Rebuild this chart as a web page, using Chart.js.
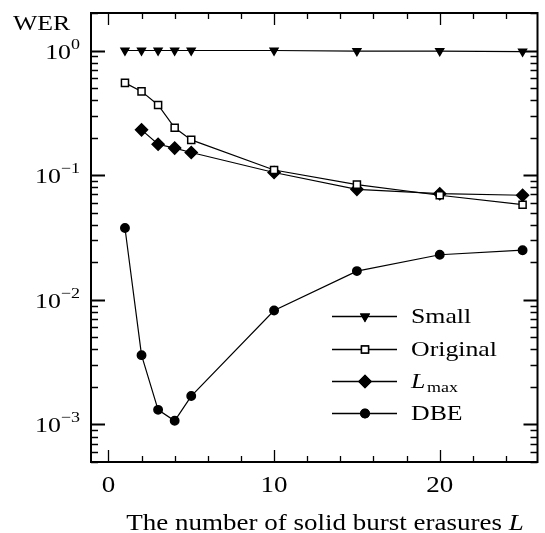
<!DOCTYPE html>
<html>
<head>
<meta charset="utf-8">
<script src="https://cdn.jsdelivr.net/npm/chart.js@4/dist/chart.umd.min.js"></script>
<style>
  html,body{margin:0;padding:0;background:#fff;}
  #wrap{width:545px;height:533px;position:relative;}
</style>
</head>
<body>
<div id="wrap"><canvas id="c" width="545" height="533"></canvas></div>
<script>
// data
const xs = [1,2,3,4,5,10,15,20,25];
const small    = [1.0,1.0,1.0,1.0,1.0,1.0,0.99,0.99,0.98];
const original = [0.55,0.47,0.366,0.24,0.192,0.11,0.084,0.069,0.058];
const lmaxX    = [2,3,4,5,10,15,20,25];
const lmax     = [0.231,0.177,0.165,0.152,0.105,0.077,0.071,0.069];
const dbe      = [0.0377,0.0036,0.00131,0.00107,0.00169,0.0082,0.017,0.023,0.025];
const xTickLabels = [0,10,20];
const yDecades = [0,-1,-2,-3];

const FONT = "'Liberation Serif', 'DejaVu Serif', serif";
const K = 1.2; // horizontal stretch, the original text is set wide
const pts = (x,y)=>x.map((v,i)=>({x:v,y:y[i]}));

const ds = [
  {label:'Small',data:pts(xs,small),pointStyle:'triangle',rotation:180,pointRadius:4.5,backgroundColor:'#000'},
  {label:'Original',data:pts(xs,original),pointStyle:'rect',pointRadius:5,backgroundColor:'#fff'},
  {label:'Lmax',data:pts(lmaxX,lmax),pointStyle:'rectRot',pointRadius:6,backgroundColor:'#000'},
  {label:'DBE',data:pts(xs,dbe),pointStyle:'circle',pointRadius:4.2,backgroundColor:'#000'}
].map(d=>Object.assign(d,{borderColor:'#000',borderWidth:1.2,pointBorderWidth:1.5,pointBorderColor:'#000',
  pointBackgroundColor:d.backgroundColor,pointHoverRadius:d.pointRadius,pointRotation:d.rotation||0,tension:0,fill:false}));

function tw(ctx,font,s){ ctx.font=font; return ctx.measureText(s).width*K; }
// draw text with left edge at x, baseline y, stretched by K
function txt(ctx,font,s,x,y){
  ctx.save(); ctx.font=font; ctx.textAlign='left'; ctx.textBaseline='alphabetic';
  ctx.translate(x,y); ctx.scale(K,1); ctx.fillText(s,0,0); ctx.restore();
  return ctx.measureText(s).width*K;
}

// axes, ticks pointing inward, labels and legend
const deco = {
  id:'deco',
  afterDraw(chart){
    const {ctx, chartArea:a, scales:{x,y}} = chart;
    ctx.save();
    ctx.strokeStyle='#000'; ctx.fillStyle='#000';
    ctx.lineWidth=1.3;
    // x ticks (top & bottom)
    for(let v=0; v<=25; v+=2){
      const px=Math.round(x.getPixelForValue(v))+0.5;
      const len = v%10===0 ? 12 : 6;
      ctx.beginPath(); ctx.moveTo(px,a.bottom); ctx.lineTo(px,a.bottom-len);
      ctx.moveTo(px,a.top); ctx.lineTo(px,a.top+len); ctx.stroke();
    }
    // y ticks (left & right)
    for(let e=-4;e<=0;e++){
      for(let m=1;m<=9;m++){
        const v=m*Math.pow(10,e);
        if(v<y.min||v>y.max) continue;
        const py=Math.round(y.getPixelForValue(v))+0.5;
        const len = m===1 ? 14 : 7;
        ctx.lineWidth = m===1 ? 2 : 1.3;
        ctx.beginPath(); ctx.moveTo(a.left,py); ctx.lineTo(a.left+len,py);
        ctx.moveTo(a.right,py); ctx.lineTo(a.right-len,py); ctx.stroke();
      }
    }
    // frame
    ctx.lineWidth=2;
    ctx.strokeRect(a.left,a.top,a.right-a.left,a.bottom-a.top);

    const f21='21.5px '+FONT, f22='22.5px '+FONT;
    // x tick labels
    xTickLabels.forEach(v=>{
      const s=String(v), w=tw(ctx,f22,s);
      txt(ctx,f22,s,x.getPixelForValue(v)-w/2,492);
    });
    // y tick labels 10^e
    yDecades.forEach(e=>{
      const py=y.getPixelForValue(Math.pow(10,e));
      const exp=String(e).replace('-','\u2212');
      const fe='15px '+FONT;
      const ew=tw(ctx,fe,exp), bw=tw(ctx,f21,'10');
      const right=80;
      txt(ctx,fe,exp,right-ew,py-2);
      txt(ctx,f21,'10',right-ew-bw,py+8);
    });
    // WER label
    txt(ctx,f21,'WER',13,30);
    // x title
    const t1='The number of solid burst erasures ';
    const fi='italic 22.5px '+FONT;
    const w1=tw(ctx,f22,t1), w2=tw(ctx,fi,'L');
    const sx=325-(w1+w2)/2;
    txt(ctx,f22,t1,sx,530);
    txt(ctx,fi,'L',sx+w1,530);
    // legend
    const rows=[316,349,381,413];
    chart.data.datasets.forEach((d,i)=>{
      const ry=rows[i];
      ctx.lineWidth=1.3; ctx.strokeStyle='#000';
      ctx.beginPath(); ctx.moveTo(332,ry+0.5); ctx.lineTo(397,ry+0.5); ctx.stroke();
      Chart.helpers.drawPoint(ctx,{pointStyle:d.pointStyle,radius:d.pointRadius,borderWidth:d.pointBorderWidth,rotation:d.rotation||0},365,ry+0.5);
      ctx.fillStyle=d.backgroundColor; ctx.fill();
      ctx.lineWidth=d.pointBorderWidth; ctx.stroke();
      ctx.fillStyle='#000';
      if(d.label==='Lmax'){
        const lw=txt(ctx,'italic 21.5px '+FONT,'L',411,ry+7);
        txt(ctx,'15px '+FONT,'max',411+lw+1,ry+11);
      } else {
        txt(ctx,f21,d.label,411,ry+7);
      }
    });
    ctx.restore();
  }
};

new Chart(document.getElementById('c'),{
  type:'line',
  data:{datasets:ds},
  options:{
    responsive:false, animation:false, devicePixelRatio:1,
    layout:{padding:{top:13,right:4,left:0,bottom:0}},
    plugins:{legend:{display:false},tooltip:{enabled:false}},
    scales:{
      x:{type:'linear',min:-1.05,max:25.9,
         grid:{display:false,drawTicks:false},border:{display:false},
         ticks:{display:false},
         afterFit(s){s.height=71;}},
      y:{type:'logarithmic',min:5e-4,max:2,
         grid:{display:false,drawTicks:false},border:{display:false},
         ticks:{display:false},
         afterFit(s){s.width=91;}}
    }
  },
  plugins:[deco]
});
</script>
</body>
</html>
